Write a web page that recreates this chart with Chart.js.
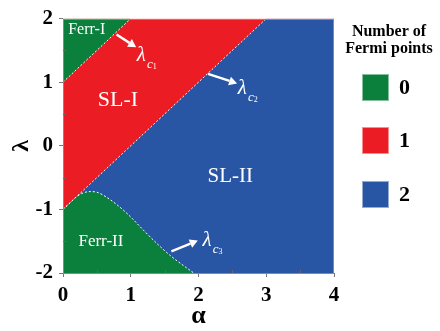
<!DOCTYPE html>
<html><head><meta charset="utf-8">
<script src="https://cdn.jsdelivr.net/npm/chart.js@4.4.0/dist/chart.umd.min.js"></script>
<style>html,body{margin:0;padding:0;background:#fff}#wrap{width:440px;height:331px;position:relative}</style>
</head><body><div id="wrap"><canvas id="c" width="440" height="331"></canvas></div>
<script>
// ---- data ----
const alphaRange = [0, 4];
const lambdaRange = [-2, 2];
const minorAlpha = [0.5, 1.5, 2.5, 3.5];
const minorLambda = [-1.5, -0.5, 0.5, 1.5];
// lambda_c1 = alpha + 1
const c1Alpha = [0, 1];
const c1Lambda = [1, 2];
// lambda_c2 = alpha - 1
const c2Alpha = [0, 3];
const c2Lambda = [-1, 2];
// lambda_c3
const c3Alpha = [0, 0.1, 0.2, 0.3, 0.4, 0.5, 0.6, 0.7, 0.8, 0.9, 1.0, 1.2, 1.4, 1.6, 1.8, 1.93];
const c3Lambda = [-1, -0.9, -0.8, -0.74, -0.72, -0.73, -0.78, -0.85, -0.93, -1.02, -1.12, -1.34, -1.55, -1.74, -1.9, -2];
const legendCounts = ['0', '1', '2'];
const legendColors = ['#0a803c', '#ec1c24', '#2856a4'];
const regionNames = ['Ferr-I', 'SL-I', 'SL-II', 'Ferr-II'];
const regionAlpha = [0.35, 0.81, 2.47, 0.56];
const regionLambda = [1.83, 0.71, -0.49, -1.51];
const regionFont = [16, 22, 21, 17];
const critNames = ['1', '2', '3'];
const arrowTailAlpha = [0.79, 2.14, 1.60];
const arrowTailLambda = [1.75, 1.13, -1.66];
const arrowHeadAlpha = [1.08, 2.57, 1.99];
const arrowHeadLambda = [1.55, 0.98, -1.49];
const critLabelAlpha = [1.09, 2.58, 2.06];
const critLabelLambda = [1.33, 0.82, -1.57];

const GREEN = legendColors[0], RED = legendColors[1], BLUE = legendColors[2];
const zip = (xs, ys) => xs.map((x, i) => ({x, y: ys[i]}));

const fillBase = {pointRadius: 0, borderWidth: 0, tension: 0};
const datasets = [
  {...fillBase, data: zip(alphaRange, [lambdaRange[1], lambdaRange[1]]), backgroundColor: RED, fill: 'start', order: 10},
  {...fillBase, data: zip(c2Alpha.concat([alphaRange[1]]), c2Lambda.concat([lambdaRange[1]])), backgroundColor: BLUE, fill: 'start', order: 9},
  {...fillBase, data: zip(c1Alpha, c1Lambda), backgroundColor: GREEN, fill: 'end', order: 8},
  {...fillBase, data: zip(c3Alpha, c3Lambda), backgroundColor: GREEN, fill: 'start', cubicInterpolationMode: 'monotone', order: 7},
];
const dashBase = {pointRadius: 0, borderWidth: 1, borderColor: '#ffffff', borderDash: [2, 2], fill: false};
datasets.push({...dashBase, data: zip(c1Alpha, c1Lambda), order: 1});
datasets.push({...dashBase, data: zip(c2Alpha, c2Lambda), order: 1});
datasets.push({...dashBase, data: zip(c3Alpha, c3Lambda), cubicInterpolationMode: 'monotone', order: 1});

const SERIF = '"Liberation Serif", "Times New Roman", serif';

function arrow(ctx, x1, y1, x2, y2) {
  const ang = Math.atan2(y2 - y1, x2 - x1);
  const hl = 8, hw = 4.5;
  const bx = x2 - hl * Math.cos(ang), by = y2 - hl * Math.sin(ang);
  ctx.save();
  ctx.strokeStyle = '#fff'; ctx.fillStyle = '#fff'; ctx.lineWidth = 2.4;
  ctx.beginPath(); ctx.moveTo(x1, y1); ctx.lineTo(bx, by); ctx.stroke();
  ctx.beginPath();
  ctx.moveTo(x2, y2);
  ctx.lineTo(bx + hw * Math.sin(ang), by - hw * Math.cos(ang));
  ctx.lineTo(bx - hw * Math.sin(ang), by + hw * Math.cos(ang));
  ctx.closePath(); ctx.fill();
  ctx.restore();
}

const decor = {
  id: 'decor',
  afterDatasetsDraw(chart) {
    const {ctx, chartArea: a, scales: {x, y}} = chart;
    ctx.save();
    // frame
    ctx.strokeStyle = '#8a8a8a'; ctx.lineWidth = 1;
    ctx.strokeRect(Math.round(a.left) + 0.5, Math.round(a.top) + 0.5, Math.round(a.right - a.left) - 1, Math.round(a.bottom - a.top));
    // minor ticks (inward)
    ctx.strokeStyle = '#666';
    minorAlpha.forEach(v => { const px = Math.round(x.getPixelForValue(v)) + 0.5; ctx.beginPath(); ctx.moveTo(px, a.bottom); ctx.lineTo(px, a.bottom - 3); ctx.stroke(); });
    minorLambda.forEach(v => { const py = Math.round(y.getPixelForValue(v)) + 0.5; ctx.beginPath(); ctx.moveTo(a.left, py); ctx.lineTo(a.left + 3, py); ctx.stroke(); });
    // region labels
    ctx.fillStyle = '#fff'; ctx.textAlign = 'center'; ctx.textBaseline = 'middle';
    regionNames.forEach((t, i) => {
      ctx.font = regionFont[i] + 'px ' + SERIF;
      ctx.fillText(t, x.getPixelForValue(regionAlpha[i]), y.getPixelForValue(regionLambda[i]));
    });
    // arrows and critical labels
    critNames.forEach((n, i) => {
      arrow(ctx, x.getPixelForValue(arrowTailAlpha[i]), y.getPixelForValue(arrowTailLambda[i]),
        x.getPixelForValue(arrowHeadAlpha[i]), y.getPixelForValue(arrowHeadLambda[i]));
      const lx = x.getPixelForValue(critLabelAlpha[i]), ly = y.getPixelForValue(critLabelLambda[i]);
      ctx.textAlign = 'left'; ctx.textBaseline = 'alphabetic';
      ctx.font = 'italic 21px ' + SERIF;
      ctx.fillText('λ', lx, ly);
      const w = ctx.measureText('λ').width;
      ctx.font = 'italic 13px ' + SERIF;
      ctx.fillText('c', lx + w + 1, ly + 7);
      const wc = ctx.measureText('c').width;
      ctx.font = '8px ' + SERIF;
      ctx.fillText(n, lx + w + 1 + wc, ly + 8);
    });
    ctx.restore();
  },
  afterDraw(chart) {
    const ctx = chart.ctx;
    ctx.save();
    ctx.fillStyle = '#000'; ctx.textAlign = 'center'; ctx.textBaseline = 'alphabetic';
    ctx.font = 'bold 16px ' + SERIF;
    ctx.fillText('Number of', 389, 36);
    ctx.fillText('Fermi points', 389, 53);
    const sq = [74, 127, 181];
    legendCounts.forEach((t, i) => {
      ctx.fillStyle = legendColors[i];
      ctx.fillRect(362, sq[i], 27, 27);
      ctx.strokeStyle = 'rgba(255,255,255,0.5)'; ctx.lineWidth = 1;
      ctx.strokeRect(362.5, sq[i] + 0.5, 26, 26);
      ctx.fillStyle = '#000'; ctx.textAlign = 'left';
      ctx.font = 'bold 22px ' + SERIF;
      ctx.fillText(t, 399, sq[i] + 20);
    });
    ctx.restore();
  }
};

new Chart(document.getElementById('c'), {
  type: 'line',
  data: {datasets},
  options: {
    responsive: false, animation: false, devicePixelRatio: 1,
    layout: {padding: {top: 14, right: 106, left: 0, bottom: 0}},
    plugins: {legend: {display: false}, tooltip: {enabled: false}},
    elements: {line: {tension: 0}},
    scales: {
      x: {
        type: 'linear', min: alphaRange[0], max: alphaRange[1],
        ticks: {stepSize: 1, color: '#000', font: {family: SERIF, size: 21, weight: 'bold'}, padding: 6, maxRotation: 0},
        grid: {drawOnChartArea: false, tickLength: 4, color: '#777'},
        border: {display: false},
        title: {display: true, text: 'α', color: '#000', font: {family: SERIF, size: 26, weight: 'bold', lineHeight: 1}, padding: {top: 0, bottom: 2}},
        afterFit(s) { s.height = 58; }
      },
      y: {
        type: 'linear', min: lambdaRange[0], max: lambdaRange[1],
        ticks: {stepSize: 1, color: '#000', font: {family: SERIF, size: 21, weight: 'bold'}, padding: 6},
        grid: {drawOnChartArea: false, tickLength: 4, color: '#777'},
        border: {display: false},
        title: {display: true, text: 'λ', color: '#000', font: {family: SERIF, size: 24, weight: 'bold', lineHeight: 1}, padding: {top: 10, bottom: 0}},
        afterFit(s) { s.width = 63; }
      }
    }
  },
  plugins: [decor]
});
</script>
</body></html>
